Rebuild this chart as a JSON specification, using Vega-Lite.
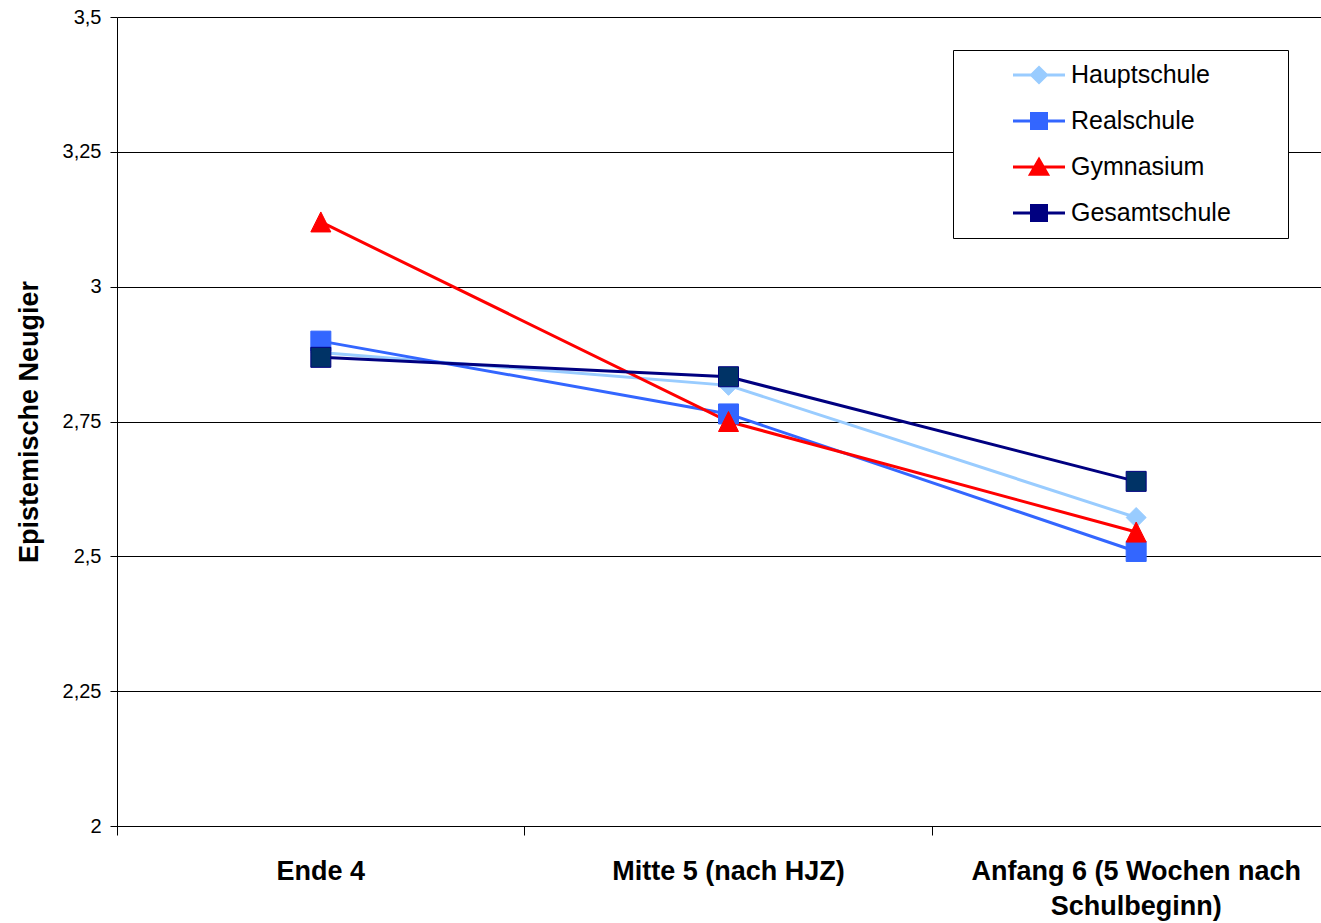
{
  "$schema": "https://vega.github.io/schema/vega-lite/v6.json",
  "width": 1204,
  "height": 809,
  "autosize": {"type": "none"},
  "padding": {"left": 117, "top": 17, "right": 0, "bottom": 97},
  "background": "white",
  "config": {
    "view": {"stroke": null},
    "font": "Liberation Sans",
    "legend": {
      "orient": "none",
      "legendX": 836,
      "legendY": 33,
      "titleOrient": "right",
      "titlePadding": 46,
      "padding": 11,
      "fillColor": "white",
      "strokeColor": "black",
      "symbolOffset": 61,
      "labelOffset": 18,
      "labelFontSize": 25,
      "labelColor": "black",
      "labelLimit": 0,
      "rowPadding": 18,
      "symbolSize": 625,
      "symbolStrokeWidth": 3
    }
  },
  "data": {
    "values": [
      {"serie": "Hauptschule", "zeit": "Ende 4", "wert": 2.878},
      {"serie": "Hauptschule", "zeit": "Mitte 5 (nach HJZ)", "wert": 2.817},
      {"serie": "Hauptschule", "zeit": "Anfang 6 (5 Wochen nach Schulbeginn)", "wert": 2.572},
      {"serie": "Realschule", "zeit": "Ende 4", "wert": 2.899},
      {"serie": "Realschule", "zeit": "Mitte 5 (nach HJZ)", "wert": 2.764},
      {"serie": "Realschule", "zeit": "Anfang 6 (5 Wochen nach Schulbeginn)", "wert": 2.509},
      {"serie": "Gymnasium", "zeit": "Ende 4", "wert": 3.12},
      {"serie": "Gymnasium", "zeit": "Mitte 5 (nach HJZ)", "wert": 2.75},
      {"serie": "Gymnasium", "zeit": "Anfang 6 (5 Wochen nach Schulbeginn)", "wert": 2.545},
      {"serie": "Gesamtschule", "zeit": "Ende 4", "wert": 2.869},
      {"serie": "Gesamtschule", "zeit": "Mitte 5 (nach HJZ)", "wert": 2.833},
      {"serie": "Gesamtschule", "zeit": "Anfang 6 (5 Wochen nach Schulbeginn)", "wert": 2.639}
    ]
  },
  "encoding": {
    "y": {
      "field": "wert",
      "type": "quantitative",
      "scale": {"domain": [2, 3.5], "nice": false, "zero": false},
      "axis": {
        "values": [2, 2.25, 2.5, 2.75, 3, 3.25, 3.5],
        "format": ".3~g",
        "labelExpr": "replace(datum.label, '.', ',')",
        "grid": true,
        "gridColor": "black",
        "gridOpacity": 1,
        "gridWidth": 1,
        "domain": true,
        "domainColor": "black",
        "domainWidth": 1,
        "ticks": true,
        "tickColor": "black",
        "tickSize": 7,
        "labelFontSize": 20,
        "labelColor": "black",
        "labelPadding": 9,
        "title": "Epistemische Neugier",
        "titleFontSize": 27,
        "titleFontWeight": "bold",
        "titleColor": "black",
        "titleAngle": 270,
        "titleAlign": "center",
        "titleBaseline": "alphabetic",
        "titleX": -80,
        "titleY": 404.5
      }
    }
  },
  "layer": [
    {
      "mark": {"type": "line", "strokeWidth": 3},
      "encoding": {
        "x": {
          "field": "zeit",
          "type": "nominal",
          "sort": ["Ende 4", "Mitte 5 (nach HJZ)", "Anfang 6 (5 Wochen nach Schulbeginn)"],
          "scale": {"type": "band", "paddingInner": 0, "paddingOuter": 0, "range": [0, 1223]},
          "axis": {
            "orient": "bottom",
            "title": null,
            "ticks": false,
            "tickSize": 0,
            "domain": true,
            "domainColor": "black",
            "domainWidth": 1,
            "grid": false,
            "labelAngle": 0,
            "labelFontSize": 27,
            "labelFontWeight": "bold",
            "labelColor": "black",
            "labelPadding": 32,
            "labelLineHeight": 35,
            "labelLimit": 0,
            "labelExpr": "datum.value == 'Anfang 6 (5 Wochen nach Schulbeginn)' ? ['Anfang 6 (5 Wochen nach', 'Schulbeginn)'] : datum.label"
          }
        },
        "color": {
          "field": "serie",
          "type": "nominal",
          "scale": {
            "domain": ["Hauptschule", "Realschule", "Gymnasium", "Gesamtschule"],
            "range": ["#99CCFF", "#3366FF", "#FF0000", "#000080"]
          },
          "legend": {
            "title": " ",
            "encode": {
              "symbols": {
                "update": {
                  "fill": {"signal": "datum.value === 'Hauptschule' ? '#99CCFF' : datum.value === 'Realschule' ? '#3366FF' : datum.value === 'Gymnasium' ? '#FF0000' : '#003366'"},
                  "stroke": {"signal": "datum.value === 'Hauptschule' ? '#99CCFF' : datum.value === 'Realschule' ? '#3366FF' : datum.value === 'Gymnasium' ? '#FF0000' : '#000080'"},
                  "strokeWidth": {"value": 3},
                  "opacity": {"value": 1},
                  "fillOpacity": {"value": 1},
                  "strokeOpacity": {"value": 1}
                }
              }
            }
          }
        }
      }
    },
    {
      "transform": [{"filter": "false"}],
      "mark": {"type": "point", "filled": true, "opacity": 1, "size": 625, "strokeWidth": 3},
      "encoding": {
        "color": {
          "field": "serie",
          "type": "nominal",
          "scale": {
            "domain": ["Hauptschule", "Realschule", "Gymnasium", "Gesamtschule"],
            "range": ["#99CCFF", "#3366FF", "#FF0000", "#000080"]
          }
        },
        "shape": {
          "field": "serie",
          "type": "nominal",
          "legend": {"title": " "},
          "scale": {
            "domain": ["Hauptschule", "Realschule", "Gymnasium", "Gesamtschule"],
            "range": [
              "M-2.08,0H2.08M-0.6,0L0,-0.6L0.6,0L0,0.6Z",
              "M-2.08,0H2.08M-0.6,-0.6H0.6V0.6H-0.6Z",
              "M-2.08,0H2.08M0,-0.6L0.68,0.58L-0.68,0.58Z",
              "M-2.08,0H2.08M-0.6,-0.6H0.6V0.6H-0.6Z"
            ]
          }
        }
      }
    },
    {
      "transform": [{"filter": "datum.serie === 'Hauptschule'"}],
      "mark": {"type": "point", "shape": "diamond", "filled": true, "opacity": 1, "size": 400, "fill": "#99CCFF", "stroke": "#99CCFF", "strokeWidth": 1},
      "encoding": {
        "x": {
          "field": "zeit",
          "type": "nominal",
          "sort": ["Ende 4", "Mitte 5 (nach HJZ)", "Anfang 6 (5 Wochen nach Schulbeginn)"],
          "axis": {
            "orient": "bottom",
            "title": null,
            "labels": false,
            "ticks": true,
            "tickSize": 9,
            "tickColor": "black",
            "bandPosition": 0,
            "domain": false,
            "grid": false
          }
        }
      }
    },
    {
      "transform": [{"filter": "datum.serie === 'Realschule'"}],
      "mark": {"type": "point", "shape": "square", "filled": true, "opacity": 1, "size": 400, "fill": "#3366FF", "stroke": "#3366FF", "strokeWidth": 1},
      "encoding": {
        "x": {
          "field": "zeit",
          "type": "nominal",
          "sort": ["Ende 4", "Mitte 5 (nach HJZ)", "Anfang 6 (5 Wochen nach Schulbeginn)"],
          "axis": null
        }
      }
    },
    {
      "transform": [{"filter": "datum.serie === 'Gymnasium'"}],
      "mark": {"type": "point", "shape": "M0,-1L1,1L-1,1Z", "filled": true, "opacity": 1, "size": 400, "fill": "#FF0000", "stroke": "#FF0000", "strokeWidth": 1},
      "encoding": {
        "x": {
          "field": "zeit",
          "type": "nominal",
          "sort": ["Ende 4", "Mitte 5 (nach HJZ)", "Anfang 6 (5 Wochen nach Schulbeginn)"],
          "axis": null
        }
      }
    },
    {
      "transform": [{"filter": "datum.serie === 'Gesamtschule'"}],
      "mark": {"type": "point", "shape": "square", "filled": true, "opacity": 1, "size": 400, "fill": "#003366", "stroke": "#000080", "strokeWidth": 1},
      "encoding": {
        "x": {
          "field": "zeit",
          "type": "nominal",
          "sort": ["Ende 4", "Mitte 5 (nach HJZ)", "Anfang 6 (5 Wochen nach Schulbeginn)"],
          "axis": null
        }
      }
    }
  ],
  "resolve": {"axis": {"x": "independent"}}
}
